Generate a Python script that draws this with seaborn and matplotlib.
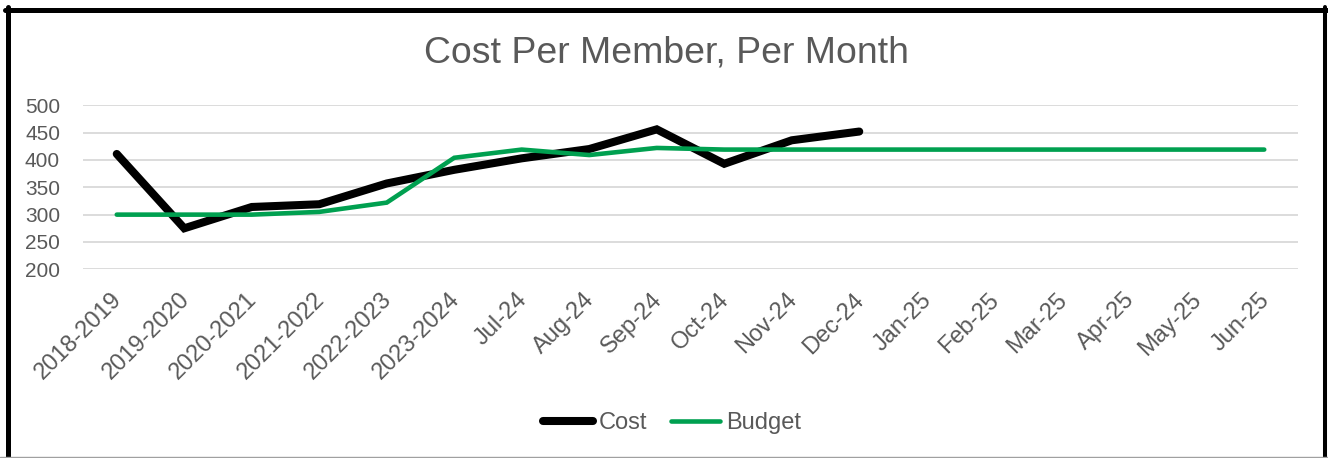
import numpy as np
import pandas as pd
import matplotlib
matplotlib.use("Agg")
import matplotlib.pyplot as plt
import matplotlib.transforms as mtrans
from matplotlib.lines import Line2D
import seaborn as sns

categories = ["2018-2019", "2019-2020", "2020-2021", "2021-2022", "2022-2023", "2023-2024",
              "Jul-24", "Aug-24", "Sep-24", "Oct-24", "Nov-24", "Dec-24",
              "Jan-25", "Feb-25", "Mar-25", "Apr-25", "May-25", "Jun-25"]
cost = [411, 275, 314, 319, 357, 382, 403, 420, 456, 393, 436, 452,
        np.nan, np.nan, np.nan, np.nan, np.nan, np.nan]
budget = [300, 300, 300, 305, 322, 404, 419, 409, 422, 419, 419, 419,
          419, 419, 419, 419, 419, 419]
yticks = [200, 250, 300, 350, 400, 450, 500]

sns.set_theme(style="white")
plt.rcParams['font.family'] = ['Liberation Sans', 'DejaVu Sans']
TXT = "#595959"

df = pd.DataFrame({"Period": categories, "Cost": cost, "Budget": budget})

fig = plt.figure(figsize=(13.28, 4.58), dpi=100)
ax = fig.add_axes([83/1328, 1-269.3/458, (1298-83)/1328, (269.3-105.3)/458])

for y in yticks:
    ax.axhline(y, color="#d9d9d9", lw=1.3, zorder=0)

sns.lineplot(data=df, x="Period", y="Cost", ax=ax, color="black", lw=5.8,
             solid_capstyle="round", solid_joinstyle="miter", sort=False, label="Cost", zorder=3)
sns.lineplot(data=df, x="Period", y="Budget", ax=ax, color="#00a050", lw=3.3,
             solid_capstyle="round", solid_joinstyle="miter", sort=False, label="Budget", zorder=4)

ax.set_xlim(-0.5, len(categories) - 0.5)
ax.set_ylim(200, 500)
ax.set_yticks(yticks)
ax.set_yticklabels([str(v) for v in yticks], fontsize=15, color=TXT)
ax.set_xticks(range(len(categories)))
ax.set_xticklabels(categories, fontsize=17, color=TXT, rotation=45, ha="right",
                   rotation_mode="anchor", va="top")
ax.tick_params(axis="both", length=0)
ax.tick_params(axis="y", pad=16.5)
ax.tick_params(axis="x", pad=14)
shift = mtrans.ScaledTranslation(-6/100, 0, fig.dpi_scale_trans)
for lab in ax.get_xticklabels():
    lab.set_transform(lab.get_transform() + shift)
ax.set_xlabel("")
ax.set_ylabel("")
for s in ax.spines.values():
    s.set_visible(False)

ax.legend_.remove()
handles = [Line2D([], [], color="black", lw=5.8, solid_capstyle="round"),
           Line2D([], [], color="#00a050", lw=3.3, solid_capstyle="round")]
fig.legend(handles, ["Cost", "Budget"], loc="center", bbox_to_anchor=(0.506, 1-423/458),
           ncol=2, frameon=False, fontsize=17, labelcolor=TXT, handlelength=2.1,
           handletextpad=0.25, columnspacing=1.0)

fig.text(0.502, 1-53/458, "Cost Per Member, Per Month", ha="center", va="center",
         fontsize=26.9, color=TXT)

# outer frame
fig.add_artist(Line2D([7.5/1328, 7.5/1328], [0, 1-7/458], color="black", lw=3.6,
                      transform=fig.transFigure))
fig.add_artist(Line2D([5/1328, 1327/1328], [1-9.5/458, 1-9.5/458], color="black", lw=3.6,
                      transform=fig.transFigure))
fig.add_artist(Line2D([1324.7/1328, 1324.7/1328], [0, 1-7/458], color="black", lw=2.9,
                      transform=fig.transFigure))
fig.add_artist(Line2D([0, 1], [0.7/458, 0.7/458], color="#a0a0a0", lw=1,
                      transform=fig.transFigure))

fig.savefig("out.png", dpi=100)
